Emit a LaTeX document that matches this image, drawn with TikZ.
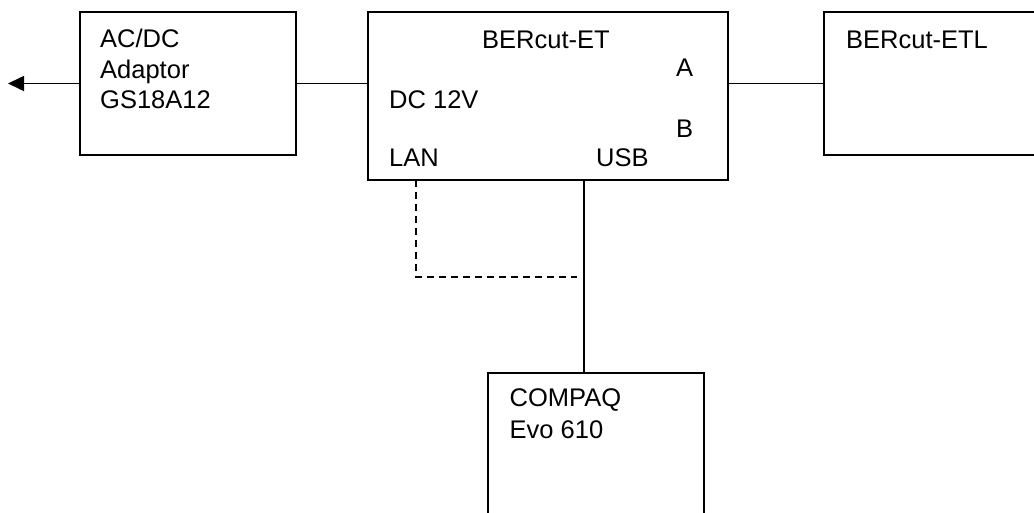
\documentclass[tikz,border=0pt]{standalone}
\usepackage{fontspec}
\setmainfont{Liberation Sans}
\usetikzlibrary{arrows.meta}
\begin{document}
\begin{tikzpicture}[x=1pt,y=-1pt,
  box/.style={draw,line width=1.6pt,rectangle,inner sep=0pt,outer sep=0pt,anchor=north west},
  wire/.style={line width=1.6pt},
  lbl/.style={anchor=base west,inner sep=0pt,font=\fontsize{25.5}{30.5}\selectfont}]
\useasboundingbox (0,0) rectangle (1034,513);
\clip (0,0) rectangle (1034,513);
\fill[white] (0,0) rectangle (1034,513);
% boxes
\node[box,minimum width=216pt,minimum height=143pt] (adp) at (80,12) {};
\node[box,minimum width=360pt,minimum height=168pt] (et) at (368,12) {};
\node[box,minimum width=300pt,minimum height=143pt] (etl) at (824,12) {};
\node[box,minimum width=216pt,minimum height=200pt] (pc) at (488,373) {};
% labels
\node[lbl] (t1) at (100,48) {AC/DC};
\node[lbl] (t2) at (100,78.5) {Adaptor};
\node[lbl] (t3) at (100,109) {GS18A12};
\node[lbl] (t4) at (482,48.3) {BERcut-ET};
\node[lbl] (t5) at (676,77) {A};
\node[lbl] (t6) at (389,109) {DC 12V};
\node[lbl] (t7) at (676,137.7) {B};
\node[lbl] (t8) at (389,167) {LAN};
\node[lbl] (t9) at (596,167) {USB};
\node[lbl] (t10) at (846,48.3) {BERcut-ETL};
\node[lbl] (t11) at (509.5,406.7) {COMPAQ};
\node[lbl] (t12) at (509.5,438) {Evo 610};
% connectors
\coordinate (tip) at (8,83.5);
\draw[wire,-{Triangle[length=16pt,width=15pt]}] (adp.west) -- (tip);
\draw[wire] (adp.east) -- (adp.east -| et.west);
\draw[wire] (etl.west -| et.east) -- (etl.west);
\coordinate (usb) at (584,180);
\draw[wire] (usb) -- (usb |- pc.north);
\coordinate (lan) at (416,180);
\coordinate (lanend) at (577,277);
\draw[wire,dash pattern=on 7pt off 5pt] (lan) -- (lan |- lanend) -- (lanend);
\end{tikzpicture}
\end{document}
